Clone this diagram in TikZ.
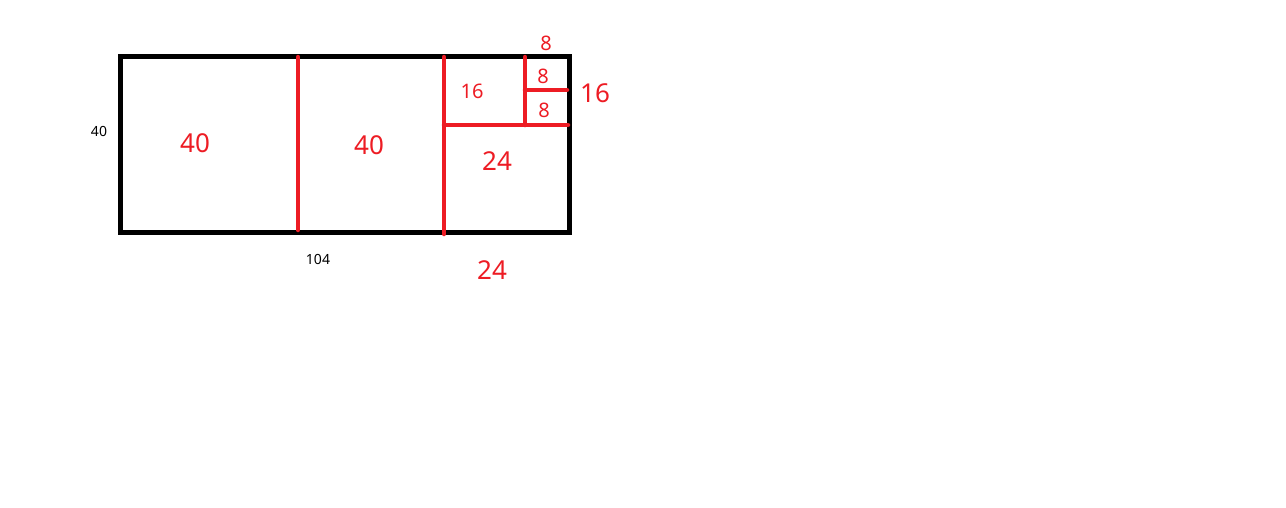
\documentclass[tikz,border=0pt]{standalone}
\usepackage{fontspec}
\setmainfont{Noto Sans}
\definecolor{paintred}{HTML}{ED1C24}

\tikzset{
  redline/.style={paintred, line width=4.5pt, line cap=round},
  biglabel/.style={text=paintred, font=\fontsize{26}{26}\selectfont, inner sep=0pt},
  midlabel/.style={text=paintred, font=\fontsize{20}{20}\selectfont, inner sep=0pt},
  dimlabel/.style={text=black, font=\fontsize{14}{14}\selectfont, inner sep=0pt}
}

\begin{document}
\begin{tikzpicture}[x=1pt,y=-1pt]
  \useasboundingbox (0,0) rectangle (1286,507);

  % outer board
  \coordinate (topleft) at (120,56);
  \coordinate (botright) at (569,232);
  \draw[line width=5pt] (topleft) rectangle (botright);

  % first and second squares
  \coordinate (cutA top) at (298,57);
  \coordinate (cutA bot) at (298,230);
  \draw[redline] (cutA top) -- (cutA bot);

  \coordinate (cutB top) at (444,57);
  \coordinate (cutB bot) at (444,234);
  \draw[redline] (cutB top) -- (cutB bot);

  % square 24 against remaining strip
  \coordinate (cutC left) at (444,125);
  \coordinate (cutC right) at (568,125);
  \draw[redline] (cutC left) -- (cutC right);

  % square 16 and the two 8 squares
  \coordinate (cutD top) at (525,57);
  \coordinate (cutD bot) at (525,125);
  \draw[redline] (cutD top) -- (cutD bot);

  \coordinate (cutE left) at (525,90);
  \coordinate (cutE right) at (567,90);
  \draw[redline] (cutE left) -- (cutE right);

  % labels
  \node[biglabel] (sqA) at (195,143) {40};
  \node[biglabel] (sqB) at (369,145) {40};
  \node[biglabel] (sqC) at (497,161) {24};
  \node[midlabel] (sqD) at (472,91) {16};
  \node[midlabel] (sqE) at (543,76) {8};
  \node[midlabel] (sqF) at (544,110) {8};
  \node[midlabel] (topeight) at (546,43) {8};
  \node[biglabel] (sideD) at (595,93) {16};
  \node[biglabel] (botC) at (492,270) {24};
  \node[dimlabel] (height) at (99,131) {40};
  \node[dimlabel] (width) at (318,259) {104};
\end{tikzpicture}
\end{document}
